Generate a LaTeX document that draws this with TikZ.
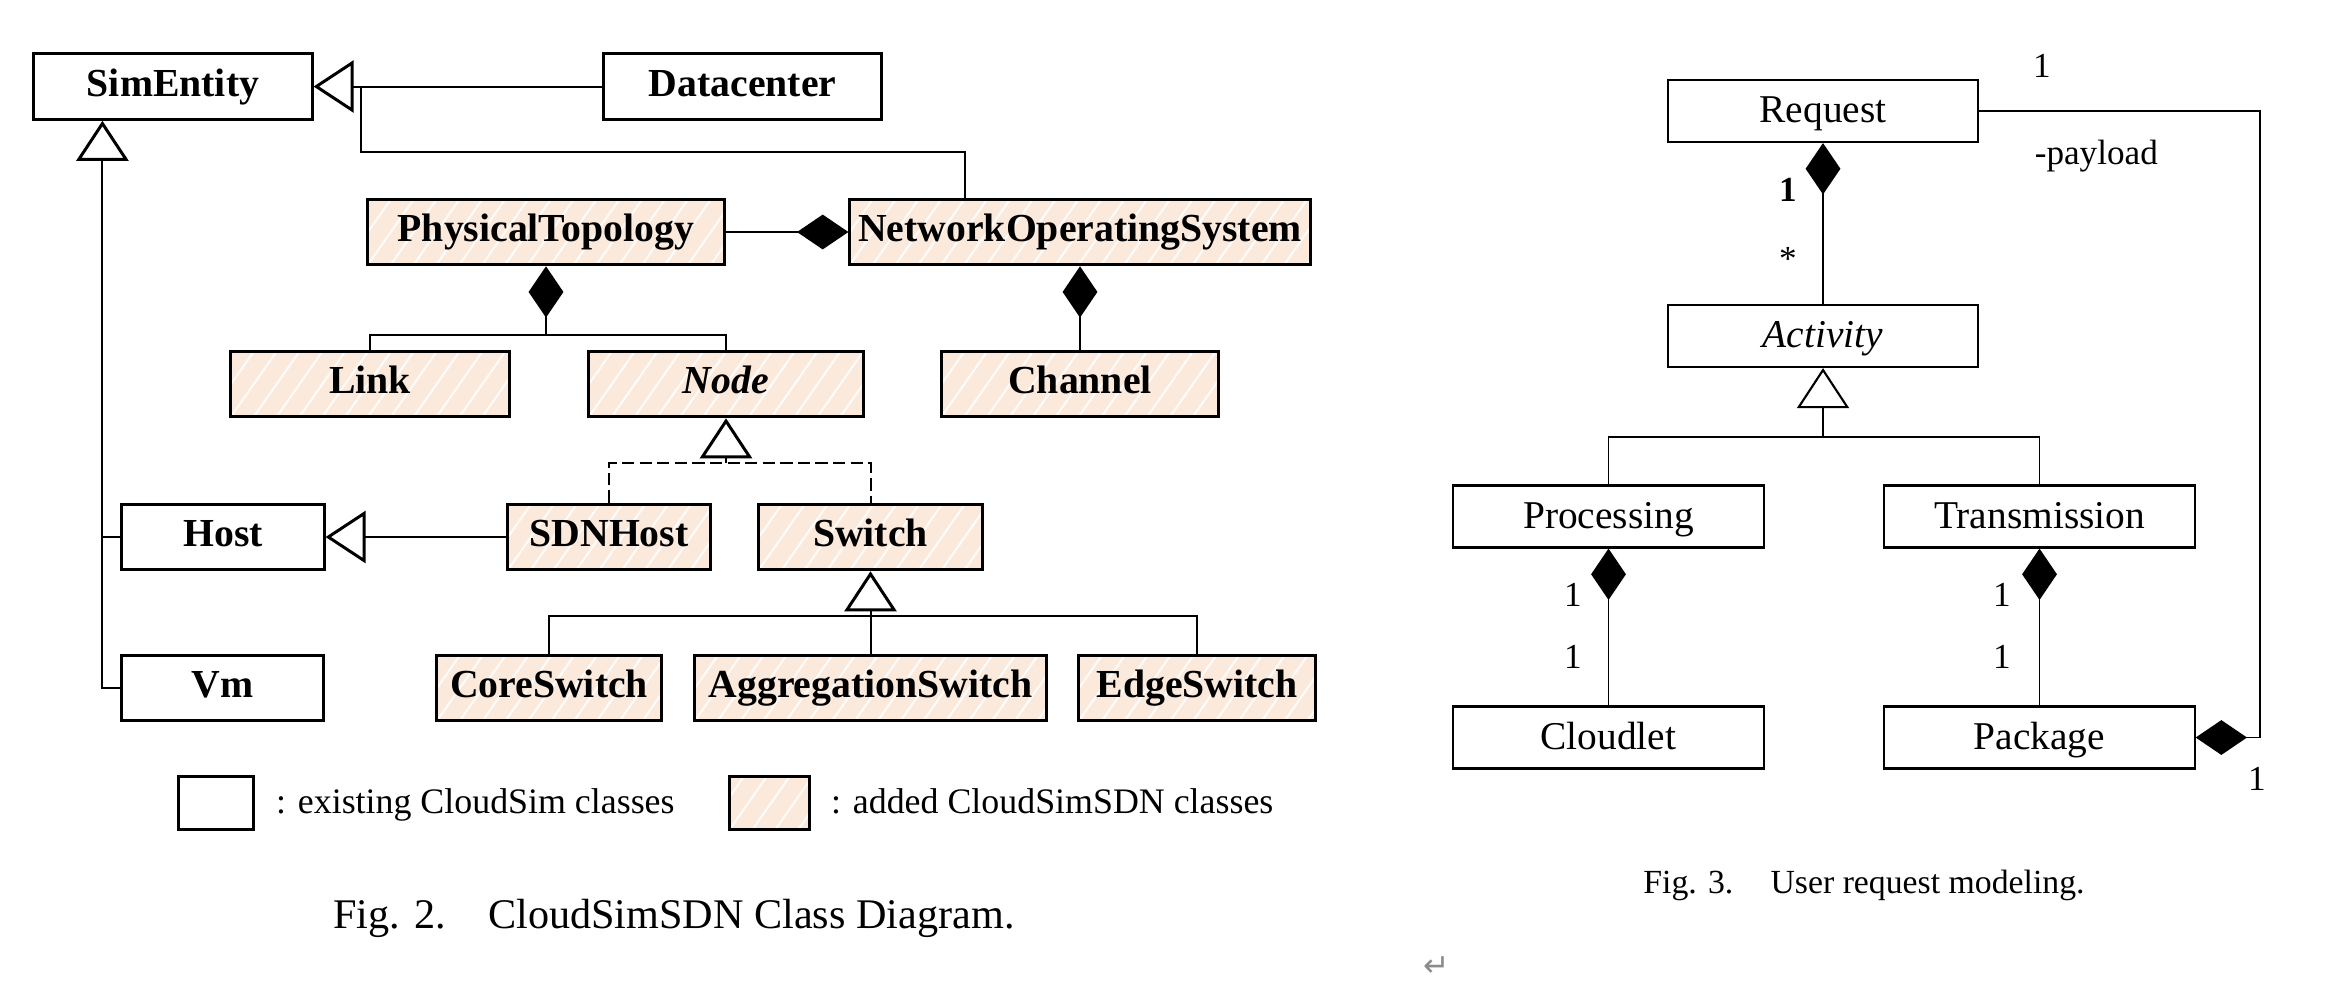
\documentclass[tikz,border=0pt]{standalone}
\usepackage{fontspec}
\setmainfont{Liberation Serif}
\newfontfamily\symbolFont{DejaVu Sans}
\usetikzlibrary{arrows.meta, calc}
\definecolor{sdnPeach}{RGB}{251,233,220}
\definecolor{returnGray}{gray}{0.55}
\tikzset{
  cls/.style={draw, line width=0.85pt, minimum height=0.655cm, inner sep=0pt, text height=7.6pt, text depth=2.2pt, font=\fontsize{11.3}{13}\selectfont\bfseries},
  sdn/.style={cls, fill=sdnPeach, path picture={
      \foreach \k in {-4,...,22} {
        \draw[white, opacity=0.85, line width=0.6pt] ([xshift=\k*6.5pt]path picture bounding box.south west) -- ++(55:1.2cm);
      }}},
  req/.style={draw, line width=0.6pt, minimum width=3.1cm, minimum height=0.62cm, inner sep=0pt, text height=7.4pt, text depth=0.8pt, font=\fontsize{11.2}{13}\selectfont},
  mult/.style={inner sep=0pt, anchor=base, font=\fontsize{10}{12}\selectfont},
  isA/.style={arrows={-Triangle[open, length=11.4pt, width=14.8pt, line width'=#1]}},
  isA/.default=0.85pt,
  hasA/.style={arrows={Diamond[length=14.6pt, width=9.9pt]-}},
  realize/.style={dash pattern=on 3.5pt off 1.5pt}
}
\begin{document}
\begin{tikzpicture}[x=0.01cm, y=-0.01cm, line width=0.57pt]
        \useasboundingbox (0,0) rectangle (2346,1005);

        \node[cls, minimum width=2.78cm] (simEntity) at (173,86.5) {SimEntity};
        \node[cls, minimum width=2.77cm] (datacenter) at (742.5,86.5) {Datacenter};
        \node[sdn, minimum width=3.56cm] (physTopo) at (546,232) {PhysicalTopology};
        \node[sdn, minimum width=4.6cm] (nos) at (1080,232) {NetworkOperatingSystem};
        \node[sdn, minimum width=2.78cm] (link) at (370,384) {Link};
        \node[sdn, minimum width=2.74cm] (abstractNode) at (726,384) {\textit{Node}};
        \node[sdn, minimum width=2.77cm] (channel) at (1080,384) {Channel};
        \node[cls, minimum width=2.02cm] (host) at (223,537) {Host};
        \node[sdn, minimum width=2.02cm] (sdnHost) at (609,537) {SDNHost};
        \node[sdn, minimum width=2.23cm] (switch) at (870.5,537) {Switch};
        \node[cls, minimum width=2.01cm] (vm) at (222.5,688) {Vm};
        \node[sdn, minimum width=2.24cm] (coreSwitch) at (549,688) {CoreSwitch};
        \node[sdn, minimum width=3.51cm] (aggSwitch) at (870.5,688) {AggregationSwitch};
        \node[sdn, minimum width=2.36cm] (edgeSwitch) at (1197,688) {EdgeSwitch};

        \coordinate (dcJoin) at ($(simEntity.east)+(47,0)$);
        \coordinate (topoFork) at (546,335);
        \coordinate (nodeFork) at (726,463);
        \coordinate (switchFork) at (870.5,616);
        \coordinate (simStem) at ($(simEntity.south west)+(70,0)$);

        \draw[isA] (datacenter.west) -- (simEntity.east);
        \draw ($(nos.north)+(-115,0)$) |- ($(dcJoin)+(0,65)$) -- (dcJoin);
        \draw[hasA] (nos.west) -- (physTopo.east);
        \draw[hasA] (physTopo.south) -- (topoFork);
        \draw (link.north) |- (topoFork) -| (abstractNode.north);
        \draw[hasA] (nos.south) -- (channel.north);
        \draw[isA] (nodeFork) -- (abstractNode.south);
        \draw[realize] (sdnHost.north) |- (nodeFork) -| (switch.north);
        \draw[isA] (sdnHost.west) -- (host.east);
        \draw[isA] (switchFork) -- (switch.south);
        \draw (coreSwitch.north) |- (switchFork) -| (edgeSwitch.north);
        \draw (aggSwitch.north) -- (switchFork);
        \draw[isA] (vm.west) -| (simStem);
        \draw (host.west) -- (host.west -| simStem);

        \node[cls, minimum width=0.74cm, minimum height=0.53cm] (legendOld) at (216,802.5) {};
        \node[sdn, minimum width=0.79cm, minimum height=0.53cm] (legendNew) at (769.5,802.5) {};
        \node[inner sep=0pt, anchor=base west, font=\fontsize{10.2}{12}\selectfont] (legendOldText) at (275,813) {: existing CloudSim classes};
        \node[inner sep=0pt, anchor=base west, font=\fontsize{10.2}{12}\selectfont] (legendNewText) at (830,813) {: added CloudSimSDN classes};
        \node[inner sep=0pt, anchor=base, font=\fontsize{12}{14}\selectfont] (figTwo) at (674,928) {Fig. 2.\hspace{1em}CloudSimSDN Class Diagram.};

        \begin{scope}[line width=0.45pt]
            \node[req] (request) at (1823,111) {Request};
            \node[req] (activity) at (1823,336) {\textit{Activity}};
            \node[req] (processing) at (1608.5,516.5) {Processing};
            \node[req] (transmission) at (2039.5,516.5) {Transmission};
            \node[req] (cloudlet) at (1608.5,737.5) {Cloudlet};
            \node[req] (package) at (2039.5,737.5) {Package};

            \coordinate (activityFork) at (1823,437);
            \coordinate (payloadTurn) at (2260,111);

            \draw[hasA] (request.south) -- (activity.north);
            \draw[isA=0.6pt] (activityFork) -- (activity.south);
            \draw (processing.north) |- (activityFork) -| (transmission.north);
            \draw[hasA] (processing.south) -- (cloudlet.north);
            \draw[hasA] (transmission.south) -- (package.north);
            \draw[hasA] (package.east) -| (payloadTurn) -- (request.east);

            \node[mult] (payloadOne) at (2042,77) {1};
            \node[mult, anchor=base west] (payloadName) at (2034,164) {-payload};
            \node[mult] (packageOne) at (2257,790) {1};
            \node[mult] (requestOne) at (1788,201) {\textbf{1}};
            \node[mult] (activityMany) at (1788,270) {*};
            \node[mult] (processingOne) at (1573,606) {1};
            \node[mult] (cloudletOne) at (1573,668) {1};
            \node[mult] (transmissionOne) at (2002,606) {1};
            \node[mult] (packageTop) at (2002,668) {1};
        \end{scope}

        \node[inner sep=0pt, anchor=base, font=\fontsize{9.6}{12}\selectfont] (figThree) at (1864,893) {Fig. 3.\hspace{1.1em}User request modeling.};
        \node[inner sep=0pt, text=returnGray, font=\symbolFont\fontsize{9}{10}\selectfont] (returnMark) at (1437,967) {↵};
    \end{tikzpicture}
\end{document}
